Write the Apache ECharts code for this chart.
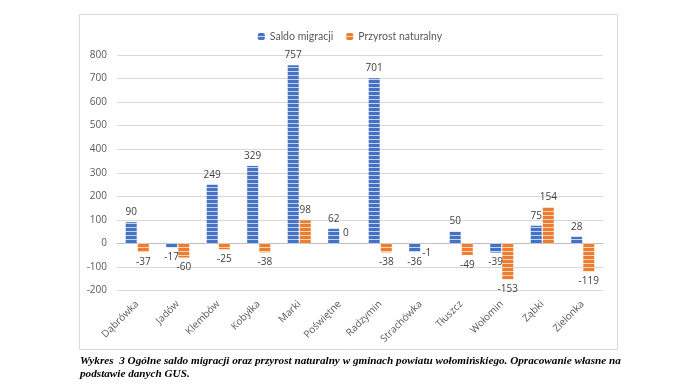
<!DOCTYPE html>
<html><head><meta charset="utf-8">
<script src="https://cdn.jsdelivr.net/npm/echarts@6/dist/echarts.min.js"></script>
<style>html,body{margin:0;padding:0;background:#fff}#c{width:700px;height:390px}</style>
</head><body><div id="c"></div>
<script>
var categories = ['Dąbrówka','Jadów','Klembów','Kobyłka','Marki','Poświętne','Radzymin','Strachówka','Tłuszcz','Wołomin','Ząbki','Zielonka'];
var saldoMigracji = [90,-17,249,329,757,62,701,-36,50,-39,75,28];
var przyrostNaturalny = [-37,-60,-25,-38,98,0,-38,-1,-49,-153,154,-119];
var seriesNames = ['Saldo migracji','Przyrost naturalny'];
var yTicks = {min:-200, max:800, interval:100};
var captionLines = ['Wykres  3 Ogólne saldo migracji oraz przyrost naturalny w gminach powiatu wołomińskiego. Opracowanie własne na','podstawie danych GUS.'];

function stripe(base, line){
  var c = document.createElement('canvas'); c.width = 4; c.height = 4;
  var x = c.getContext('2d');
  x.fillStyle = base; x.fillRect(0,0,4,4);
  x.fillStyle = line; x.fillRect(0,3,4,1);
  return {image:c, repeat:'repeat'};
}
var blue = stripe('#4472c4','#c5d3ee');
var orange = stripe('#ed7d31','#fbd5b8');

function mk(arr){
  return arr.map(function(v){
    return {value:v, label:{position: v<0 ? 'bottom':'top'}};
  });
}
var chart = echarts.init(document.getElementById('c'), null, {renderer:'canvas'});
var lblFont = {fontFamily:'Open Sans', fontSize:10, color:'#404040'};
chart.setOption({
  animation:false,
  legend:{top:26, left:'center', itemWidth:7, itemHeight:7, itemGap:13,
    textStyle:{fontFamily:'Lato', fontSize:10.5, color:'#595959'},
    data:seriesNames},
  grid:{left:117, right:97, top:55, bottom:99.5},
  xAxis:{type:'category', data:categories,
    axisLine:{onZero:true, lineStyle:{color:'#bfbfbf'}},
    axisTick:{show:false},
    axisLabel:{rotate:45, interval:0, margin:12, fontFamily:'Open Sans', fontSize:10, color:'#595959'}},
  yAxis:{type:'value', min:yTicks.min, max:yTicks.max, interval:yTicks.interval,
    axisLine:{show:false}, axisTick:{show:false},
    splitLine:{lineStyle:{color:'#d9d9d9'}},
    axisLabel:{margin:10, fontFamily:'Open Sans', fontSize:10, color:'#595959'}},
  series:[
    {name:seriesNames[0], type:'bar', data:mk(saldoMigracji), barWidth:11, barGap:'10%',
      itemStyle:{color:blue}, label:Object.assign({show:true, distance:5}, lblFont)},
    {name:seriesNames[1], type:'bar', data:mk(przyrostNaturalny), barWidth:11,
      itemStyle:{color:orange}, label:Object.assign({show:true, distance:5}, lblFont)}
  ],
  graphic:[
    {type:'rect', shape:{x:79.5, y:14.5, width:538, height:335}, style:{fill:'none', stroke:'#d9d9d9', lineWidth:1}, silent:true, z:-1},
    {type:'text', left:80, top:356, style:{text:captionLines[0], font:'italic bold 11.2px "Liberation Serif"', fill:'#000'}},
    {type:'text', left:80, top:369, style:{text:captionLines[1], font:'italic bold 11.2px "Liberation Serif"', fill:'#000'}}
  ]
});
</script></body></html>
